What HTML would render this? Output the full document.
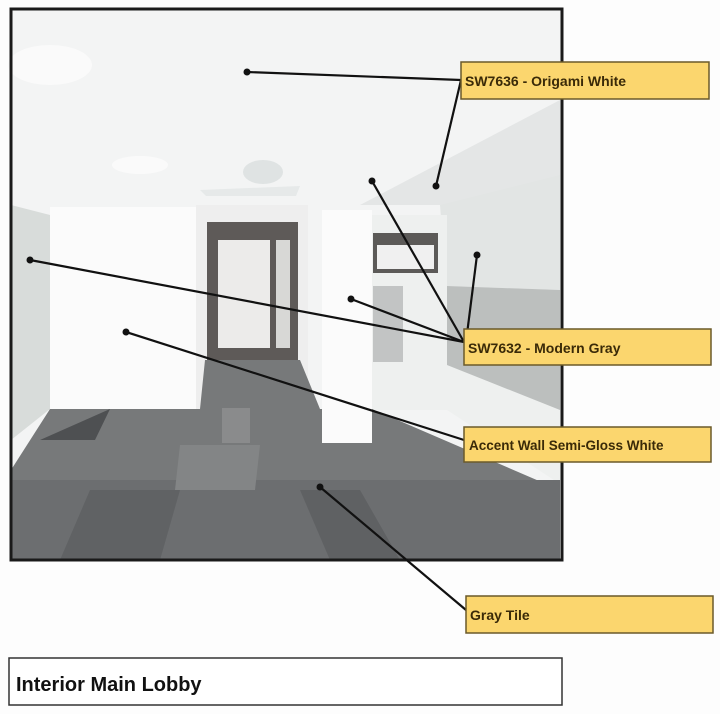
<!DOCTYPE html>
<html><head><meta charset="utf-8"><style>
html,body{margin:0;padding:0;background:#fff;width:720px;height:714px;overflow:hidden}
svg{display:block}
text{font-family:"Liberation Sans",sans-serif}
</style></head><body>
<svg width="720" height="714" viewBox="0 0 720 714" xmlns="http://www.w3.org/2000/svg">
<rect width="720" height="714" fill="#fdfdfd"/>
<g>
<rect x="11" y="9" width="551" height="551" fill="#f3f4f4"/>
<ellipse cx="50" cy="65" rx="42" ry="20" fill="#fafafa"/>
<ellipse cx="140" cy="165" rx="28" ry="9" fill="#fafafa"/>
<polygon points="360,205 560,100 560,200 440,205" fill="#e4e6e6"/>
<polygon points="440,205 560,175 560,290 447,290" fill="#e2e5e4"/>
<polygon points="11,205 50,215 50,409 11,440" fill="#d8dcda"/>
<rect x="50" y="207" width="150" height="202" fill="#fbfbfb"/>
<rect x="196" y="205" width="112" height="205" fill="#eeeeee"/>
<rect x="207" y="222" width="91" height="153" fill="#5e5a58"/>
<rect x="218" y="240" width="52" height="108" fill="#ecebea"/>
<rect x="276" y="240" width="14" height="108" fill="#d8d8d6"/>
<ellipse cx="263" cy="172" rx="20" ry="12" fill="#dfe3e3"/>
<polygon points="200,190 300,186 296,196 206,196" fill="#e6e9e9"/>
<rect x="372" y="215" width="75" height="195" fill="#eef0ef"/>
<rect x="373" y="233" width="65" height="40" fill="#5c5a58"/>
<rect x="377" y="245" width="57" height="24" fill="#f0f0f0"/>
<rect x="373" y="286" width="30" height="76" fill="#c2c4c4"/>
<polygon points="447,286 560,290 560,484 447,410" fill="#eef0ef"/>
<polygon points="447,286 560,290 560,410 447,365" fill="#bcbfbe"/>
<polygon points="11,470 50,409 200,409 205,360 300,360 320,409 372,409 560,490 560,560 11,560" fill="#77797a"/>
<polygon points="40,440 110,409 95,440" fill="#4e5052"/>
<polygon points="11,480 560,480 560,560 11,560" fill="#6c6e70"/>
<rect x="222" y="408" width="28" height="35" fill="#8a8b8c"/>
<polygon points="90,490 180,490 160,560 60,560" fill="#606264"/>
<polygon points="300,490 360,490 400,560 330,560" fill="#5f6163"/>
<polygon points="180,445 260,445 255,490 175,490" fill="#838586"/>
<rect x="322" y="210" width="50" height="233" fill="#fbfbfb"/>
<rect x="11" y="9" width="551" height="551" fill="none" stroke="#1a1a1a" stroke-width="3"/>
</g>
<g stroke="#111" stroke-width="2.2" fill="none">
<line x1="247" y1="72" x2="461" y2="80"/>
<line x1="436" y1="186" x2="461" y2="80"/>
<line x1="372" y1="181" x2="464" y2="342"/>
<line x1="477" y1="255" x2="466" y2="342"/>
<line x1="351" y1="299" x2="464" y2="342"/>
<line x1="30" y1="260" x2="464" y2="342"/>
<line x1="126" y1="332" x2="464" y2="440"/>
<line x1="320" y1="487" x2="466" y2="610"/>
</g>
<g fill="#111">
<circle cx="247" cy="72" r="3.5"/><circle cx="436" cy="186" r="3.5"/>
<circle cx="372" cy="181" r="3.5"/><circle cx="477" cy="255" r="3.5"/>
<circle cx="351" cy="299" r="3.5"/><circle cx="30" cy="260" r="3.5"/>
<circle cx="126" cy="332" r="3.5"/><circle cx="320" cy="487" r="3.5"/>
</g>
<g stroke="#6b5a2a" stroke-width="1.5" fill="#fbd66e">
<rect x="461" y="62" width="248" height="37"/>
<rect x="464" y="329" width="247" height="36"/>
<rect x="464" y="427" width="247" height="35"/>
<rect x="466" y="596" width="247" height="37"/>
</g>
<g fill="#3a2a08" font-size="14" font-weight="bold">
<text x="465" y="86">SW7636 - Origami White</text>
<text x="468" y="353">SW7632 - Modern Gray</text>
<text x="469" y="450" font-size="13.5">Accent Wall Semi-Gloss White</text>
<text x="470" y="620">Gray Tile</text>
</g>
<rect x="9" y="658" width="553" height="47" fill="#fff" stroke="#333" stroke-width="1.5"/>
<text x="16" y="691" font-size="20" font-weight="bold" fill="#111">Interior Main Lobby</text>
</svg>
</body></html>
